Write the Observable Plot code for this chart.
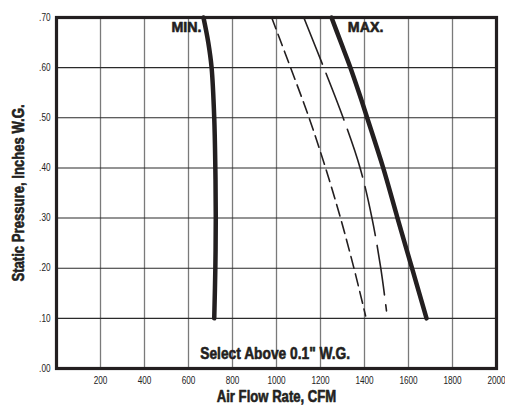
<!DOCTYPE html>
<html><head><meta charset="utf-8">
<script src="https://cdn.jsdelivr.net/npm/d3@7"></script>
<script src="https://cdn.jsdelivr.net/npm/@observablehq/plot@0.6"></script>
<style>
body{margin:0;background:#fff;}
svg{font-family:"Liberation Sans",Arial,sans-serif;}
</style></head>
<body><div id="chart"></div>
<script>
const xTicks = [200,400,600,800,1000,1200,1400,1600,1800,2000];
const yTicks = [0,0.1,0.2,0.3,0.4,0.5,0.6,0.7];

const minP = [0.70,0.65,0.60,0.50,0.40,0.30,0.20,0.10];
const minCfm = [668,690,705,717,722,724,722,717];
const maxP = [0.70,0.65,0.60,0.55,0.50,0.40,0.30,0.20,0.10];
const maxCfm = [1250,1293,1336,1375,1412,1485,1550,1616,1682];
const thinP = [0.70,0.60,0.50,0.40,0.30,0.20,0.115];
const thinCfm = [1124,1215,1303,1380,1434,1474,1500];
const dashP = [0.70,0.60,0.50,0.40,0.30,0.20,0.105];
const dashCfm = [978,1064,1148,1223,1291,1352,1405];

const labels = [
  {x:591, y:0.680, t:"MIN."},
  {x:1405, y:0.680, t:"MAX."}
];
const note = [{x:994, y:0.030, t:"Select Above 0.1\" W.G."}];

const mk = (P, C) => P.map((p,i)=>({p, c:C[i]}));
const ink = "#231f20";
const heavy = {fontWeight:"bold", fill:ink, stroke:ink, strokeWidth:0.6};

const chart = Plot.plot({
  width:505, height:407,
  marginLeft:56, marginRight:9, marginTop:17, marginBottom:39,
  x:{domain:[0,2000]},
  y:{domain:[0,0.7]},
  marks:[
    Plot.ruleX(xTicks.filter(d=>d<2000), {stroke:"#7a7a7a", strokeWidth:1.3}),
    Plot.ruleY(yTicks.filter(d=>d>0 && d<0.7), {stroke:"#2a2a2a", strokeWidth:1.1}),
    Plot.axisX(xTicks, {tickSize:0, tickPadding:8, fontSize:10, label:null, tickFormat:d=>String(d), color:"#222"}),
    Plot.axisY(yTicks, {tickSize:0, tickPadding:6, fontSize:10, label:null, tickFormat:d=>d3.format(".2f")(d).replace(/^0/,""), color:"#222"}),
    Plot.line(mk(minP,minCfm), {x:"c", y:"p", curve:"catmull-rom", stroke:ink, strokeWidth:4.5}),
    Plot.line(mk(maxP,maxCfm), {x:"c", y:"p", curve:"catmull-rom", stroke:ink, strokeWidth:4.5}),
    Plot.line(mk(thinP,thinCfm), {x:"c", y:"p", curve:"catmull-rom", stroke:ink, strokeWidth:1.6, strokeDasharray:"50,10"}),
    Plot.line(mk(dashP,dashCfm), {x:"c", y:"p", curve:"catmull-rom", stroke:ink, strokeWidth:1.6, strokeDasharray:"12,6"}),
    Plot.frame({stroke:ink, strokeWidth:3.2}),
    Plot.text(labels, {x:"x", y:"y", text:"t", fontSize:15, className:"cond95", ...heavy}),
    Plot.text(note, {x:"x", y:"y", text:"t", fontSize:16, className:"cond86", ...heavy}),
    Plot.text(["Air Flow Rate, CFM"], {frameAnchor:"bottom", dy:28, lineAnchor:"middle", fontSize:16, ...heavy}),
    Plot.text(["Static Pressure, Inches W.G."], {frameAnchor:"left", dx:-38, rotate:-90, textAnchor:"middle", lineAnchor:"middle", fontSize:16, ...heavy})
  ]
});
document.getElementById("chart").appendChild(chart);
// condense the type to mimic the reference's condensed face
chart.querySelectorAll("text").forEach(t => {
  const g = t.closest("g");
  let f = 0.82;
  if (g && g.classList.contains("cond95")) f = 0.95;
  if (g && g.classList.contains("cond86")) f = 0.86;
  const L = t.getComputedTextLength();
  if (L > 0) {
    t.setAttribute("textLength", (L * f).toFixed(1));
    t.setAttribute("lengthAdjust", "spacingAndGlyphs");
  }
});
</script></body></html>
